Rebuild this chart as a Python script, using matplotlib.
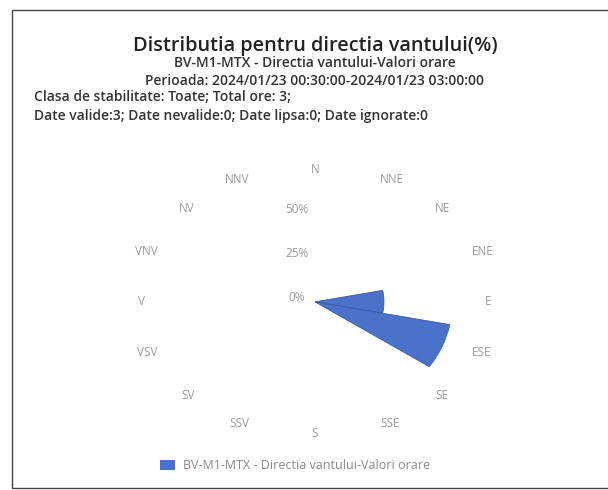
import numpy as np
import matplotlib.pyplot as plt
from matplotlib.patches import Rectangle

directions = ['N', 'NNE', 'NE', 'ENE', 'E', 'ESE', 'SE', 'SSE',
              'S', 'SSV', 'SV', 'VSV', 'V', 'VNV', 'NV', 'NNV']
frequency = [0, 0, 0, 0, 33.33, 66.67, 0, 0,
             0, 0, 0, 0, 0, 0, 0, 0]
radial_ticks = [0, 25, 50]
radial_labels = ['0%', '25%', '50%']

plt.rcParams['font.family'] = ['Open Sans', 'DejaVu Sans']

fig = plt.figure(figsize=(6.08, 4.90), dpi=100)

# scanned page frame
fig.patches.append(Rectangle((12 / 608, 2 / 490), 1.0, 478 / 490, transform=fig.transFigure,
                             fill=False, edgecolor='#444444', lw=1.0))

fig.text(0.518, 1 - 46 / 490, 'Distributia pentru directia vantului(%)', ha='center', va='center',
         fontsize=14.3, fontweight='semibold', color='#222222')
fig.text(0.518, 1 - 63 / 490, 'BV-M1-MTX - Directia vantului-Valori orare', ha='center', va='center',
         fontsize=10, fontweight='semibold', color='#333333')
fig.text(0.518, 1 - 81 / 490, 'Perioada: 2024/01/23 00:30:00-2024/01/23 03:00:00', ha='center',
         va='center', fontsize=10, fontweight='semibold', color='#333333')
fig.text(34 / 608, 1 - 97 / 490, 'Clasa de stabilitate: Toate; Total ore: 3;', ha='left', va='center',
         fontsize=10, fontweight='semibold', color='#333333')
fig.text(34 / 608, 1 - 116 / 490, 'Date valide:3; Date nevalide:0; Date lipsa:0; Date ignorate:0',
         ha='left', va='center', fontsize=10, fontweight='semibold', color='#333333')

ax = fig.add_axes([0.291, 0.145, 0.454, 0.478], projection='polar')
ax.set_aspect('auto')
ax.set_theta_zero_location('N')
ax.set_theta_direction(-1)

theta = np.radians(np.arange(len(directions)) * 22.5)
ax.bar(theta, frequency, width=np.radians(22.5), color='#4a72c8', edgecolor='#3558a8', lw=0.6)
ax.set_ylim(0, 66.67)
ax.grid(False)
ax.set_xticks([])
ax.set_yticks([])
ax.spines['polar'].set_visible(False)

# point labels sit on an ellipse, text pushed outward
for t, d in zip(theta, directions):
    s, c = np.sin(t), np.cos(t)
    ha = 'center' if abs(s) < 0.1 else ('left' if s > 0 else 'right')
    ax.text(0.5 + 0.5 * 1.232 * s, 0.5 + 0.5 * 1.128 * c, d, transform=ax.transAxes,
            ha=ha, va='center', fontsize=8.5, color='#999999')

for r, lbl in zip(radial_ticks, radial_labels):
    ax.annotate(lbl, xy=(0, r), xytext=(-13, 3), textcoords='offset points',
                ha='center', va='center', fontsize=8.5, color='#999999')

fig.patches.append(Rectangle((160 / 608, 1 - 470 / 490), 15 / 608, 10 / 490,
                             transform=fig.transFigure, facecolor='#4a72c8', edgecolor='none'))
fig.text(183 / 608, 1 - 465 / 490, 'BV-M1-MTX - Directia vantului-Valori orare', ha='left',
         va='center', fontsize=9, color='#888888')

fig.savefig('out.png', dpi=100)
